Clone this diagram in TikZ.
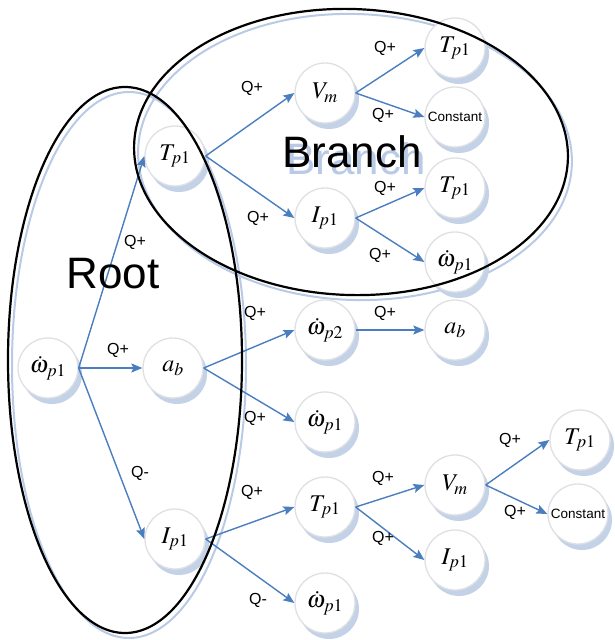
\documentclass[tikz,border=0pt]{standalone}
\usepackage{mathptmx}
\usepackage{fontspec}
\setmainfont{Liberation Sans}
\usetikzlibrary{shadows,arrows.meta}
\definecolor{edgeblue}{RGB}{74,126,190}
\definecolor{shblue}{RGB}{196,210,232}
\definecolor{elshblue}{RGB}{184,202,230}
\definecolor{rimgray}{RGB}{222,224,228}
\tikzset{
  st/.style={circle, minimum size=60pt, inner sep=0pt, fill=white, draw=rimgray, line width=1.3pt,
     drop shadow={shadow xshift=4pt, shadow yshift=-6pt, fill=shblue, opacity=1},
     font=\fontsize{24}{26}\selectfont},
  cst/.style={st, font=\fontsize{13.5}{15}\selectfont},
  lbl/.style={font=\fontsize{16}{18}\selectfont, inner sep=0pt},
  arr/.style={draw=edgeblue, line width=1.4pt, -{Stealth[length=11pt,width=9pt,inset=2pt]}},
  bigtxt/.style={font=\fontsize{44}{48}\selectfont, inner sep=0pt},
  ell/.style={draw=black, line width=2.2pt},
  ellsh/.style={draw=elshblue, line width=2pt}
}
\begin{document}
\begin{tikzpicture}[x=1pt,y=-1pt]
\useasboundingbox (0,0) rectangle (614,640);
% shadows of big ellipses
\draw[ellsh] (129,365) ellipse [x radius=117, y radius=273];
\draw[ellsh, rotate around={-2:(355,157)}] (355,157) ellipse [x radius=217, y radius=143];
% Branch text shadow
\node[bigtxt, text=elshblue] (brsh) at (356,159) {Branch};
% nodes
\node[st] (w0) at (48,368) {$\dot{\omega}_{p1}$};
\node[st] (t1) at (175,156) {$T_{p1}$};
\node[st] (a1) at (173,368) {$a_b$};
\node[st] (i1) at (175,539) {$I_{p1}$};
\node[st] (v1) at (325,93) {$V_m$};
\node[st] (i2) at (325,218) {$I_{p1}$};
\node[st] (t2) at (455,48) {$T_{p1}$};
\node[cst] (c1) at (455,117) {Constant};
\node[st] (t3) at (455,188) {$T_{p1}$};
\node[st] (w1) at (455,262) {$\dot{\omega}_{p1}$};
\node[st] (w2) at (325,330) {$\dot{\omega}_{p2}$};
\node[st] (a2) at (455,330) {$a_b$};
\node[st] (w3) at (325,422) {$\dot{\omega}_{p1}$};
\node[st] (t4) at (325,507) {$T_{p1}$};
\node[st] (w4) at (325,603) {$\dot{\omega}_{p1}$};
\node[st] (v2) at (455,485) {$V_m$};
\node[st] (i3) at (455,560) {$I_{p1}$};
\node[st] (t5) at (580,440) {$T_{p1}$};
\node[cst] (c2) at (578,514) {Constant};
% edges
\draw[arr] (w0.east) -- (t1.west);
\draw[arr] (w0.east) -- (a1.west);
\draw[arr] (w0.east) -- (i1.west);
\draw[arr] (t1.east) -- (v1.west);
\draw[arr] (t1.east) -- (i2.west);
\draw[arr] (v1.east) -- (t2.west);
\draw[arr] (v1.east) -- (c1.west);
\draw[arr] (i2.east) -- (t3.west);
\draw[arr] (i2.east) -- (w1.west);
\draw[arr] (a1.east) -- (w2.west);
\draw[arr] (a1.east) -- (w3.west);
\draw[arr] (w2.east) -- (a2.west);
\draw[arr] (i1.east) -- (t4.west);
\draw[arr] (i1.east) -- (w4.west);
\draw[arr] (t4.east) -- (v2.west);
\draw[arr] (t4.east) -- (i3.west);
\draw[arr] (v2.east) -- (t5.west);
\draw[arr] (v2.east) -- (c2.west);
% labels
\node[lbl] (l1) at (135,242) {Q+};
\node[lbl] (l2) at (118,350) {Q+};
\node[lbl] (l3) at (140,473) {Q-};
\node[lbl] (l4) at (252,88) {Q+};
\node[lbl] (l5) at (258,218) {Q+};
\node[lbl] (l6) at (385,48) {Q+};
\node[lbl] (l7) at (383,115) {Q+};
\node[lbl] (l8) at (385,188) {Q+};
\node[lbl] (l9) at (380,255) {Q+};
\node[lbl] (l10) at (255,313) {Q+};
\node[lbl] (l11) at (255,418) {Q+};
\node[lbl] (l12) at (385,313) {Q+};
\node[lbl] (l13) at (252,492) {Q+};
\node[lbl] (l14) at (258,600) {Q-};
\node[lbl] (l15) at (383,478) {Q+};
\node[lbl] (l16) at (383,538) {Q+};
\node[lbl] (l17) at (510,440) {Q+};
\node[lbl] (l18) at (515,512) {Q+};
% big ellipses
\draw[ell] (125,360) ellipse [x radius=117, y radius=273];
\draw[ell, rotate around={-2:(351,152)}] (351,152) ellipse [x radius=217, y radius=143];
\node[bigtxt] (root) at (113,274) {Root};
\node[bigtxt] (branch) at (352,152) {Branch};
\end{tikzpicture}
\end{document}
